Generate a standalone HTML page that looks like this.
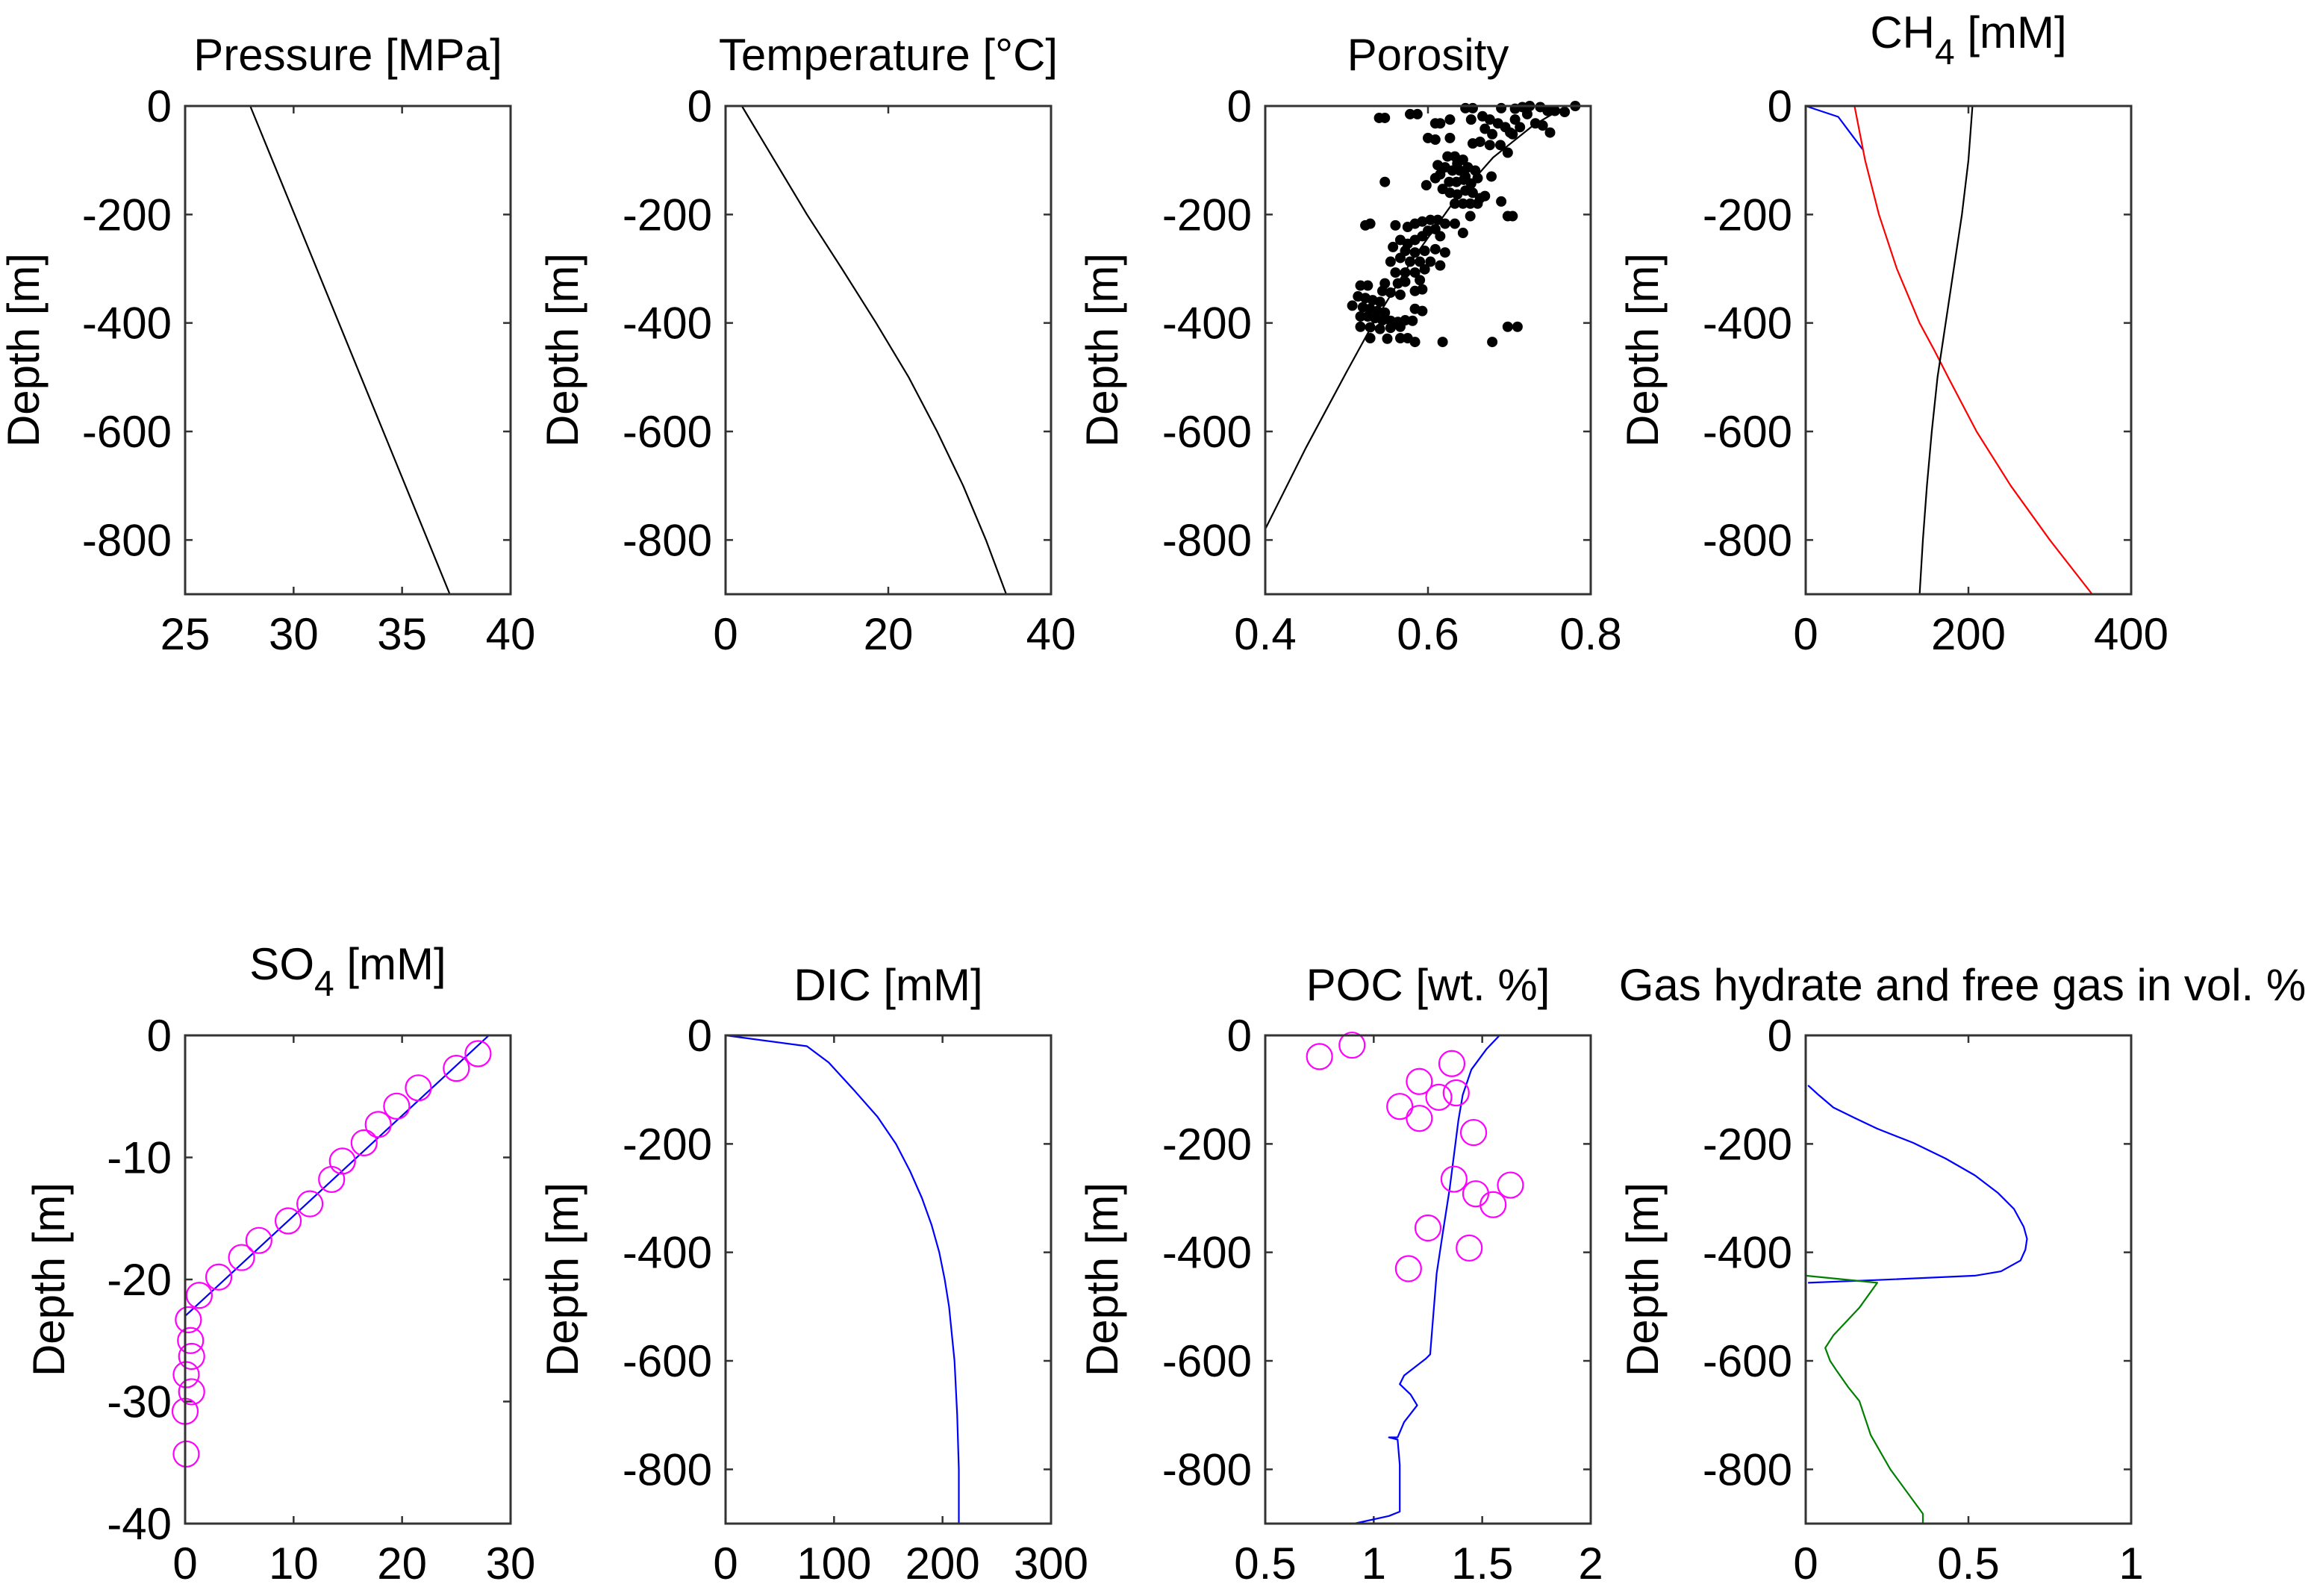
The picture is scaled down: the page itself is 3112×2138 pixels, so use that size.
<!DOCTYPE html>
<html><head><meta charset="utf-8">
<style>
html,body{margin:0;padding:0;background:#fff;}
svg{display:block;font-family:"Liberation Sans",Arial,sans-serif;}
</style></head>
<body>
<svg id="fig" width="3112" height="2138" viewBox="0 0 3112 2138" xmlns="http://www.w3.org/2000/svg"></svg>
<script>
// ---- data ----
const depthTicks900 = [0,-200,-400,-600,-800];
const so4DepthTicks = [0,-10,-20,-30,-40];
const pressureTicks = [25,30,35,40];
const pressureVals = [28.0,37.2];
const pressureDepth = [0,-900];
const tempTicks = [0,20,40];
const tempVals = [2,6,10,14.3,18.5,22.5,26,29.2,32,34.5];
const tempDepth = [0,-100,-200,-300,-400,-500,-600,-700,-800,-900];
const porTicks = [0.4,0.6,0.8];
const porFitVals = [0.4,0.45,0.5,0.53,0.58,0.63,0.68,0.73,0.77];
const porFitDepth = [-780,-630,-490,-408,-285,-180,-95,-35,0];
const porDataVals = [0.540,0.547,0.578,0.587,0.646,0.655,0.690,0.716,0.725,0.738,0.747,0.756,0.768,0.781,0.732,0.741,0.750,0.707,0.713,0.704,0.695,0.686,0.676,0.667,0.670,0.679,0.689,0.698,0.676,0.664,0.655,0.609,0.615,0.627,0.653,0.600,0.609,0.627,0.701,0.722,0.707,
0.547,0.598,0.678,0.690,0.698,0.704,0.652,
0.624,0.633,0.643,0.621,0.630,0.639,0.649,0.658,0.615,0.612,0.626,0.635,0.644,0.653,0.661,0.618,0.627,0.636,0.646,0.655,0.664,0.633,0.643,0.652,0.661,0.670,0.609,0.636,0.646,
0.523,0.529,0.560,0.575,0.584,0.593,0.603,0.612,0.621,0.633,0.643,0.609,0.600,0.566,0.575,0.584,0.593,0.615,0.557,0.572,0.584,0.596,0.609,0.621,0.554,0.566,0.578,0.590,0.603,0.615,0.560,0.572,0.584,0.596,0.563,0.547,0.572,0.590,0.584,0.593,0.517,0.526,0.566,0.554,0.544,
0.514,0.523,0.532,0.541,0.507,0.520,0.529,0.538,0.547,0.517,0.526,0.535,0.544,0.554,0.563,0.572,0.581,0.584,0.593,0.517,0.529,0.541,0.554,0.566,0.529,0.550,0.566,0.575,0.584,0.618,0.679,0.698,0.710];
const porDataDepth = [-22,-22,-15,-15,-4,-4,-4,-2,0,-2,-9,-9,-11,0,-32,-36,-49,-25,-39,-52,-39,-32,-25,-19,-42,-52,-72,-86,-72,-66,-69,-32,-32,-25,-25,-59,-62,-59,-49,-15,-5,
-140,-146,-130,-176,-203,-203,-203,
-93,-93,-99,-113,-119,-119,-113,-119,-126,-109,-140,-140,-136,-143,-133,-153,-160,-163,-156,-160,-170,-180,-180,-180,-180,-166,-133,-106,-130,
-220,-217,-220,-223,-217,-213,-210,-210,-217,-217,-234,-227,-230,-247,-254,-247,-240,-240,-260,-267,-270,-267,-264,-270,-287,-280,-287,-287,-287,-294,-307,-307,-307,-301,-327,-327,-324,-321,-341,-338,-331,-331,-348,-344,-341,
-351,-354,-358,-361,-368,-371,-374,-378,-381,-388,-388,-391,-395,-396,-398,-395,-396,-374,-378,-407,-408,-411,-409,-407,-428,-429,-428,-428,-435,-435,-435,-407,-407];
const ch4Ticks = [0,200,400];
const ch4BlueVals = [0,40,55,70];
const ch4BlueDepth = [0,-20,-50,-80];
const ch4RedVals = [60,73,90,112,140,158,175,210,252,300,352];
const ch4RedDepth = [0,-100,-200,-300,-400,-450,-500,-600,-700,-800,-900];
const ch4BlackVals = [205,200,192,182,172,162,155,149,144,140];
const ch4BlackDepth = [0,-100,-200,-300,-400,-500,-600,-700,-800,-900];
const so4Ticks = [0,10,20,30];
const so4LineVals = [28,0];
const so4LineDepth = [0,-23];
const so4DataVals = [27,25,21.5,19.5,17.8,16.5,14.5,13.5,11.5,9.5,6.8,5.2,3.1,1.3,0.3,0.5,0.6,0.1,0.6,0,0.1];
const so4DataDepth = [-1.5,-2.7,-4.3,-5.8,-7.3,-8.8,-10.3,-11.8,-13.8,-15.2,-16.8,-18.2,-19.8,-21.3,-23.3,-25,-26.3,-27.8,-29.2,-30.8,-34.3];
const dicTicks = [0,100,200,300];
const dicVals = [0,75,95,118,140,157,170,181,190,197,202,206,211,213.5,215,215];
const dicDepth = [0,-20,-50,-100,-150,-200,-250,-300,-350,-400,-450,-500,-600,-700,-800,-900];
const pocTicks = [0.5,1,1.5,2];
const pocLineVals = [1.58,1.52,1.45,1.41,1.39,1.35,1.32,1.29,1.26,1.24,1.14,1.12,1.17,1.2,1.14,1.11,1.07,1.11,1.12,1.12,1.07,0.91];
const pocLineDepth = [0,-25,-63,-110,-157,-282,-360,-439,-588,-596,-627,-643,-662,-682,-713,-741,-741,-745,-792,-878,-886,-900];
const pocDataVals = [0.75,0.9,1.36,1.21,1.38,1.30,1.12,1.21,1.46,1.37,1.63,1.47,1.55,1.25,1.44,1.16];
const pocDataDepth = [-39,-18,-52,-85,-106,-114,-131,-153,-179,-265,-276,-292,-312,-355,-392,-430];
const gasTicks = [0,0.5,1];
const hydVals = [0.007,0.04,0.085,0.15,0.22,0.33,0.43,0.52,0.59,0.64,0.67,0.68,0.675,0.66,0.6,0.52,0.22,0.007];
const hydDepth = [-92,-110,-133,-152,-172,-198,-227,-258,-290,-320,-353,-375,-395,-415,-435,-443,-451,-456];
const freeVals = [0,0.22,0.165,0.085,0.06,0.075,0.096,0.13,0.165,0.2,0.26,0.36,0.36];
const freeDepth = [-443,-456,-502,-553,-576,-600,-619,-648,-674,-737,-800,-882,-900];

// ---- layout ----
const NS = "http://www.w3.org/2000/svg";
const svg = document.getElementById('fig');
const W = 436;
const FS = 60;
function mk(tag, attrs, parent){
  const e = document.createElementNS(NS, tag);
  for (const k in attrs) e.setAttribute(k, attrs[k]);
  (parent||svg).appendChild(e);
  return e;
}
function panel(o){
  const g = mk('g', {});
  
  
  const L=o.left, T=o.top, H=654;
  const sx = v => L + (v - o.xmin)/(o.xmax - o.xmin)*W;
  const sy = v => T + (o.ymax - v)/(o.ymax - o.ymin)*H;
  o.sx = sx; o.sy = sy; o.g = g;
  mk('rect', {x:L, y:T, width:W, height:H, fill:'#fff'}, g);
  o.xticks.forEach(t=>{
    const x = sx(t);
    const tk = mk('path', {d:`M${x},${T+H}v-10M${x},${T}v10`, stroke:'#333', 'stroke-width':2.5}, g);
    
    
    const tx = mk('text', {x:x, y:T+H+74, 'font-size':FS, 'text-anchor':'middle', fill:'#000'}, g);
    
    
    tx.textContent = String(t);
  });
  o.yticks.forEach(t=>{
    const y = sy(t);
    const tk = mk('path', {d:`M${L},${y}h10M${L+W},${y}h-10`, stroke:'#333', 'stroke-width':2.5}, g);
    
    
    const tx = mk('text', {x:L-18, y:y+21, 'font-size':FS, 'text-anchor':'end', fill:'#000'}, g);
    
    
    tx.textContent = String(t);
  });
  const yl = mk('text', {x:0, y:0, 'font-size':FS, 'text-anchor':'middle', fill:'#000',
    transform:`translate(${L+o.ylOff},${T+H/2}) rotate(-90)`}, g);
  
  
  yl.textContent = 'Depth [m]';
  const tt = mk('text', {x:L+W/2+(o.tdx||0), y:o.titleY, 'font-size':FS, 'text-anchor':'middle', fill:'#000'}, g);
  
  
  if (o.sub){
    tt.appendChild(document.createTextNode(o.title[0]));
    const s = mk('tspan', {dy:22, 'font-size':48}, tt); s.textContent = o.sub;
    const r = mk('tspan', {dy:-22}, tt); r.textContent = o.title[1];
  } else tt.textContent = o.title;
  return o;
}
function line(o, xs, ys, color, name){
  const d = xs.map((v,i)=>(i?'L':'M')+o.sx(v).toFixed(1)+','+o.sy(ys[i]).toFixed(1)).join('');
  const p = mk('path', {d:d, fill:'none', stroke:color, 'stroke-width':2.2, 'stroke-linejoin':'round'}, o.g);
  
  
}
function dots(o, xs, ys, name){
  xs.forEach((v,i)=>{
    const c = mk('circle', {cx:o.sx(v), cy:o.sy(ys[i]), r:7, fill:'#000'}, o.g);
    
    
  });
}
function rings(o, xs, ys, name){
  xs.forEach((v,i)=>{
    const c = mk('circle', {cx:o.sx(v), cy:o.sy(ys[i]), r:17, fill:'none', stroke:'#ff00ff', 'stroke-width':2.2}, o.g);
    
    
  });
}
function frame(o){
  const f = mk('rect', {x:o.left, y:o.top, width:W, height:654, fill:'none', stroke:'#333', 'stroke-width':3}, o.g);
  
  
}
const lefts = [248, 972, 1695, 2419];
const T1 = 142, T2 = 1387;

let p = panel({name:'pressure', left:lefts[0], top:T1, xmin:25, xmax:40, ymin:-900, ymax:0, xticks:pressureTicks, yticks:depthTicks900, ylOff:-196, title:'Pressure [MPa]', titleY:94});
line(p, pressureVals, pressureDepth, '#000', 'pressure-line'); frame(p);

p = panel({name:'temperature', left:lefts[1], top:T1, xmin:0, xmax:40, ymin:-900, ymax:0, xticks:tempTicks, yticks:depthTicks900, ylOff:-198, title:'Temperature [°C]', titleY:94});
line(p, tempVals, tempDepth, '#000', 'temperature-line'); frame(p);

p = panel({name:'porosity', left:lefts[2], top:T1, xmin:0.4, xmax:0.8, ymin:-900, ymax:0, xticks:porTicks, yticks:depthTicks900, ylOff:-198, title:'Porosity', titleY:94});
line(p, porFitVals, porFitDepth, '#000', 'porosity-fit-line');
dots(p, porDataVals, porDataDepth, 'porosity-point'); frame(p);

p = panel({name:'ch4', left:lefts[3], top:T1, xmin:0, xmax:400, ymin:-900, ymax:0, xticks:ch4Ticks, yticks:depthTicks900, ylOff:-198, title:['CH',' [mM]'], sub:'4', titleY:64});
line(p, ch4BlueVals, ch4BlueDepth, '#0000ff', 'ch4-blue-line');
line(p, ch4RedVals, ch4RedDepth, '#ff0000', 'ch4-red-line');
line(p, ch4BlackVals, ch4BlackDepth, '#000', 'ch4-black-line'); frame(p);

p = panel({name:'so4', left:lefts[0], top:T2, xmin:0, xmax:30, ymin:-40, ymax:0, xticks:so4Ticks, yticks:so4DepthTicks, ylOff:-162, title:['SO',' [mM]'], sub:'4', titleY:1312});
line(p, so4LineVals, so4LineDepth, '#0000ff', 'so4-model-line');
rings(p, so4DataVals, so4DataDepth, 'so4-measured-point'); frame(p);

p = panel({name:'dic', left:lefts[1], top:T2, xmin:0, xmax:300, ymin:-900, ymax:0, xticks:dicTicks, yticks:depthTicks900, ylOff:-198, title:'DIC [mM]', titleY:1340});
line(p, dicVals, dicDepth, '#0000ff', 'dic-line'); frame(p);

p = panel({name:'poc', left:lefts[2], top:T2, xmin:0.5, xmax:2, ymin:-900, ymax:0, xticks:pocTicks, yticks:depthTicks900, ylOff:-198, title:'POC [wt. %]', titleY:1340});
line(p, pocLineVals, pocLineDepth, '#0000ff', 'poc-model-line');
rings(p, pocDataVals, pocDataDepth, 'poc-measured-point'); frame(p);

p = panel({name:'gas', left:lefts[3], top:T2, xmin:0, xmax:1, ymin:-900, ymax:0, xticks:gasTicks, yticks:depthTicks900, ylOff:-198, title:'Gas hydrate and free gas in vol. %', titleY:1340, tdx:-8});
line(p, hydVals, hydDepth, '#0000ff', 'gas-hydrate-line');
line(p, freeVals, freeDepth, '#008000', 'free-gas-line'); frame(p);
</script>
</body></html>
